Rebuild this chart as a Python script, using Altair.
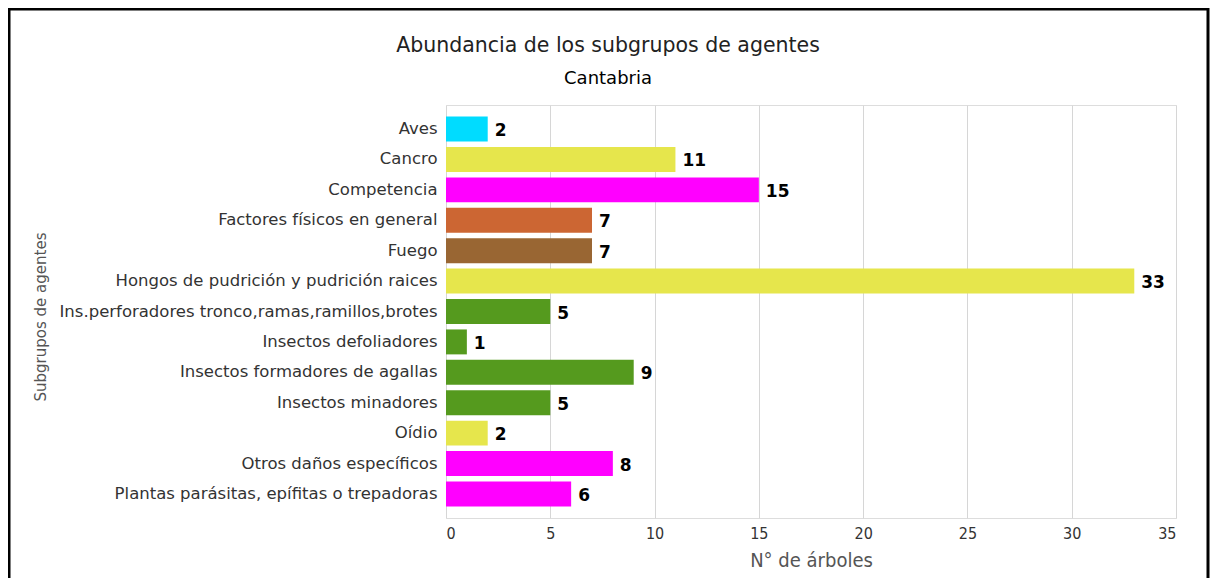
import altair as alt
import pandas as pd

categories = [
    "Aves",
    "Cancro",
    "Competencia",
    "Factores físicos en general",
    "Fuego",
    "Hongos de pudrición y pudrición raices",
    "Ins.perforadores tronco,ramas,ramillos,brotes",
    "Insectos defoliadores",
    "Insectos formadores de agallas",
    "Insectos minadores",
    "Oídio",
    "Otros daños específicos",
    "Plantas parásitas, epífitas o trepadoras",
]
values = [2, 11, 15, 7, 7, 33, 5, 1, 9, 5, 2, 8, 6]
colors = [
    "#00dcff",
    "#e6e64c",
    "#ff00ff",
    "#cc6633",
    "#996633",
    "#e6e64c",
    "#559a1e",
    "#559a1e",
    "#559a1e",
    "#559a1e",
    "#e6e64c",
    "#ff00ff",
    "#ff00ff",
]
title_text = "Abundancia de los subgrupos de agentes"
subtitle_text = "Cantabria"

df = pd.DataFrame({"cat": categories, "val": values, "color": colors})

W, H = 730, 413
COND = "DejaVu Sans Condensed, Open Sans, sans-serif"

y_enc = alt.Y(
    "cat:N",
    sort=categories,
    title="Subgrupos de agentes",
    scale=alt.Scale(paddingInner=0.18, paddingOuter=0.38),
    axis=alt.Axis(
        domain=False,
        ticks=False,
        grid=False,
        labelFont="DejaVu Sans",
        labelFontSize=16.5,
        labelColor="#333333",
        labelPadding=9,
        labelLimit=420,
        titleFont="DejaVu Sans",
        titleFontSize=15,
        titleFontWeight="normal",
        titleColor="#555555",
        titleX=-406,
        titleY=H / 2 + 5,
        titleAngle=270,
        titleAlign="center",
        titleBaseline="middle",
    ),
)

x_enc = alt.X(
    "val:Q",
    title="N° de árboles",
    scale=alt.Scale(domain=[0, 35], nice=False),
    axis=alt.Axis(
        values=[0, 5, 10, 15, 20, 25, 30, 35],
        domain=False,
        ticks=False,
        grid=True,
        gridColor="#d6d6d6",
        gridWidth=1,
        labelFont=COND,
        labelFontSize=16,
        labelColor="#333333",
        labelPadding=7,
        titleFont=COND,
        titleFontSize=20,
        titleFontWeight="normal",
        titleColor="#555555",
        titlePadding=9,
    ),
)

bars = alt.Chart(df).mark_bar(cornerRadius=0).encode(
    y=y_enc,
    x=x_enc,
    color=alt.Color("color:N", scale=None),
)

labels = alt.Chart(df).mark_text(
    align="left", baseline="middle", dx=7, dy=2,
    font="DejaVu Sans", fontSize=17, fontWeight="bold", color="#000000",
).encode(
    y=alt.Y("cat:N", sort=categories),
    x=alt.X("val:Q"),
    text=alt.Text("val:Q"),
)

one = pd.DataFrame({"t": [title_text], "s": [subtitle_text]})

title = alt.Chart(one).mark_text(
    align="center", baseline="middle", font="DejaVu Sans", fontSize=20.5,
    color="#222222", clip=False,
).encode(x=alt.value(162), y=alt.value(-59), text="t:N")

subtitle = alt.Chart(one).mark_text(
    align="center", baseline="middle", font="DejaVu Sans", fontSize=18,
    color="#000000", clip=False,
).encode(x=alt.value(162), y=alt.value(-26), text="s:N")

frame = alt.Chart(one).mark_rect(
    fill=None, stroke="#000000", strokeWidth=3, clip=False
).encode(
    x=alt.value(-437),
    x2=alt.value(762),
    y=alt.value(-96),
    y2=alt.value(H + 80),
)

chart = alt.layer(bars, labels, title, subtitle, frame).properties(
    width=W,
    height=H,
    autosize=alt.AutoSizeParams(type="none"),
    padding={"left": 438, "top": 97, "right": 35, "bottom": 60},
).configure_view(stroke=None).configure(background="white")

chart.save("out.html", embed_options={"renderer": "svg", "actions": False})
